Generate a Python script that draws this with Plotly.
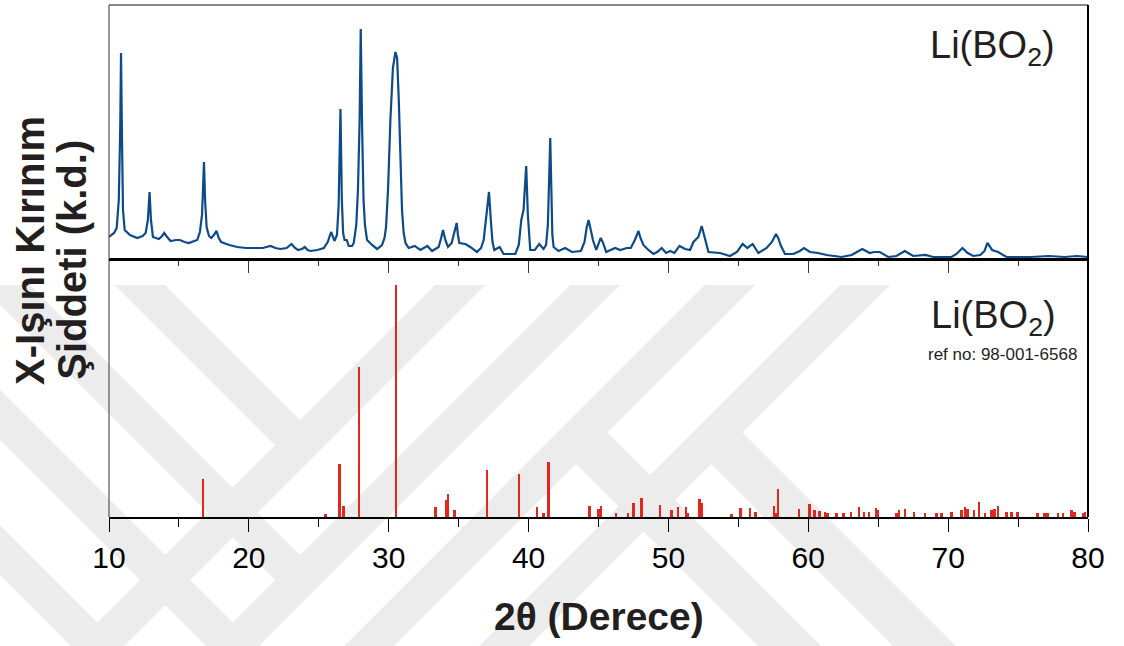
import plotly.graph_objects as go

# ---- measured XRD pattern (top panel), 2theta in degrees, intensity in arbitrary units ----
xrd_2theta = [10.0, 10.36, 10.55, 10.7, 10.8, 10.86, 10.93, 11.0, 11.12, 11.5, 12.02, 12.4, 12.62, 12.78, 12.9, 13.0,
              13.14, 13.57, 13.8, 13.95, 14.1, 14.4, 14.8, 15.07, 15.4, 15.71, 16.1, 16.31, 16.5, 16.65, 16.72, 16.79,
              16.87, 16.98, 17.15, 17.31, 17.5, 17.69, 17.85, 18.02, 18.6, 19.17, 19.8, 20.36, 21.0, 21.55, 21.9, 22.26,
              22.7, 23.05, 23.3, 23.52, 23.8, 24.0, 24.2, 24.4, 24.9, 25.36, 25.64, 25.88, 26.0, 26.12, 26.3, 26.42,
              26.55, 26.65, 26.74, 26.84, 27.0, 27.14, 27.38, 27.5, 27.68, 27.8, 27.92, 28.0, 28.1, 28.2, 28.3, 28.45,
              28.81, 29.17, 29.52, 29.7, 29.81, 29.95, 30.12, 30.3, 30.48, 30.6, 30.72, 30.83, 30.95, 31.07, 31.2, 31.43,
              31.86, 32.26, 32.76, 33.1, 33.57, 33.75, 33.88, 34.05, 34.24, 34.5, 34.75, 34.86, 34.95, 35.05, 35.48, 35.83,
              36.31, 36.6, 36.79, 37.0, 37.17, 37.3, 37.42, 37.55, 37.93, 38.21, 38.6, 39.05, 39.3, 39.48, 39.64, 39.75,
              39.83, 39.95, 40.05, 40.12, 40.45, 40.76, 41.07, 41.25, 41.38, 41.47, 41.55, 41.63, 41.7, 41.79, 42.14, 42.62,
              43.1, 43.74, 44.0, 44.15, 44.29, 44.45, 44.6, 44.84, 45.16, 45.3, 45.55, 46.19, 46.55, 47.02, 47.31, 47.6,
              47.86, 48.0, 48.21, 48.57, 48.93, 49.2, 49.52, 49.83, 50.12, 50.43, 50.79, 51.19, 51.55, 51.79, 52.14, 52.38,
              52.5, 52.62, 52.86, 53.69, 54.4, 54.9, 55.31, 55.64, 56.02, 56.43, 57.02, 57.4, 57.69, 57.85, 58.02, 58.33,
              58.93, 59.4, 59.69, 60.12, 60.7, 61.31, 62.38, 63.1, 63.86, 64.4, 64.7, 65.12, 65.71, 66.3, 66.9, 67.5,
              68.38, 68.93, 70.24, 70.6, 71.02, 71.4, 71.79, 72.3, 72.6, 72.81, 73.0, 73.14, 73.57, 74.17, 75.95, 77.2,
              78.33, 79.2, 80.0]
xrd_intensity = [23, 27, 32, 60, 130, 207, 120, 50, 30, 25, 22, 24, 27, 40, 68, 40,
                 23, 21, 24, 27, 24, 19, 20, 20, 18, 17, 19, 20, 28, 45, 70, 98,
                 60, 33, 24, 22, 25, 29, 22, 18, 15, 13, 12, 12, 12, 14, 12, 11,
                 12, 16, 12, 10, 11, 13, 10, 9, 10, 12, 18, 28, 23, 19, 25, 55,
                 151, 60, 27, 20, 20, 14, 14, 17, 35, 70, 140, 231, 130, 60, 35, 20,
                 15, 11, 15, 22, 33, 70, 140, 192, 208, 202, 160, 107, 50, 27, 17, 12,
                 14, 10, 14, 9, 13, 22, 30, 20, 13, 17, 30, 37, 25, 17, 16, 13,
                 8, 12, 20, 45, 68, 40, 18, 10, 13, 6, 6, 6, 15, 40, 50, 75,
                 94, 45, 20, 10, 10, 16, 11, 15, 35, 80, 122, 70, 25, 13, 9, 12,
                 8, 9, 18, 32, 40, 30, 20, 10, 22, 18, 8, 12, 10, 12, 12, 20,
                 29, 22, 15, 10, 6, 8, 12, 7, 9, 7, 14, 11, 10, 18, 23, 34,
                 27, 20, 8, 7, 4, 8, 16, 12, 16, 7, 12, 18, 26, 22, 15, 6,
                 6, 9, 12, 8, 7, 5, 3, 5, 11, 7, 8, 8, 3, 4, 9, 4,
                 5, 3, 3, 6, 12, 7, 4, 5, 9, 17, 13, 10, 8, 3, 3, 4,
                 3, 4, 3]

# ---- reference pattern (bottom panel, ref no: 98-001-6568) ----
ref_2theta = [16.71, 25.48, 26.48, 26.76, 27.86, 30.52, 33.33, 34.10, 34.24, 34.71, 37.02, 39.33, 40.60, 41.07,
              41.43, 44.36, 45.00, 45.17, 46.26, 47.12, 47.52, 48.07, 49.38, 50.21, 50.69, 51.24, 51.36, 52.21,
              52.38, 54.52, 55.16, 55.83, 56.21, 57.55, 57.67, 57.83, 59.34, 60.07, 60.43, 60.79, 61.19, 61.36,
              62.02, 62.50, 63.05, 63.64, 64.00, 64.33, 64.83, 64.95, 66.31, 66.48, 66.90, 67.55, 68.33, 69.17,
              69.52, 70.24, 70.95, 71.19, 71.38, 71.86, 72.19, 72.62, 73.10, 73.33, 73.57, 74.17, 74.52, 74.95,
              76.38, 76.90, 77.10, 77.86, 78.20, 78.81, 79.05, 79.64, 79.80]
ref_intensity = [38, 3, 53, 11, 150, 232, 10, 17, 23, 7, 47, 43, 10, 4,
                 55, 11, 8, 11, 4, 4, 14, 19, 12, 7, 10, 10, 4, 18,
                 14, 3, 9, 9, 5, 11, 4, 28, 8, 13, 7, 6, 5, 4,
                 4, 4, 5, 10, 5, 5, 9, 7, 4, 7, 8, 5, 4, 4,
                 4, 5, 7, 10, 8, 7, 15, 4, 7, 8, 11, 5, 5, 5,
                 4, 4, 4, 4, 4, 7, 5, 4, 5]

x_ticks = [10, 20, 30, 40, 50, 60, 70, 80]
x_minor = [15, 25, 35, 45, 55, 65, 75]
x_title = "2θ (Derece)"
y_title_1 = "X-Işını Kırınım"
y_title_2 = "Şiddeti (k.d.)"
label_top = "Li(BO<sub>2</sub>)"
label_bottom = "Li(BO<sub>2</sub>)"
label_ref = "ref no: 98-001-6568"

SPLIT = 0.502
SANS = "Liberation Sans, Arial, Helvetica, sans-serif"

# ---- faint page watermark (chevron lattice), geometry in page pixels ----
PLOT_L, PLOT_W, PLOT_B, PLOT_H = 109, 979, 517, 512
WM_TOP, WM_BOT = 285, 720
WM_COLOR = "#ececec"
WM_W = 50


def to_paper(px, py):
    return (px - PLOT_L) / PLOT_W, (PLOT_B - py) / PLOT_H


def poly_path(points):
    pts = [to_paper(px, py) for px, py in points]
    return "M " + " L ".join(f"{x:.4f},{y:.4f}" for x, y in pts) + " Z"


def wm(points):
    return dict(type="path", xref="paper", yref="paper", path=poly_path(points),
                fillcolor=WM_COLOR, line=dict(width=0), layer="below")


wm_shapes = []
for k in range(4):
    a = 120 + 135 * k      # "\" arm upper edge: py = px + a
    b = 720 + 135 * k      # "/" stripe upper edge: py = b - px
    # "/" stripe (full length)
    wm_shapes.append(wm([(b - WM_TOP, WM_TOP), (b + WM_W - WM_TOP, WM_TOP),
                         (b + WM_W - WM_BOT, WM_BOT), (b - WM_BOT, WM_BOT)]))
    # "\" arm ending on the stripe
    wm_shapes.append(wm([(WM_TOP - a - WM_W, WM_TOP), (WM_TOP - a, WM_TOP),
                         ((b - a) / 2, (b + a) / 2), ((b - a) / 2, (b + a) / 2 + WM_W)]))
# "\" stems hanging below the two right stripes
for c in (-112, -247):
    b_out = 1040 if c == -112 else 1175
    x1 = (b_out - c) / 2
    x2 = (b_out - (c - 63)) / 2
    wm_shapes.append(wm([(x1, b_out - x1), (x2, b_out - x2),
                         (WM_BOT - (c - 63), WM_BOT), (WM_BOT - c, WM_BOT)]))

fig = go.Figure()
fig.add_trace(go.Scatter(x=xrd_2theta, y=xrd_intensity, mode="lines",
                         line=dict(color="#0d4a8a", width=2.2), xaxis="x2", yaxis="y2",
                         showlegend=False, hoverinfo="x+y"))
fig.add_trace(go.Bar(x=ref_2theta, y=ref_intensity, width=0.18,
                     marker=dict(color="#e2271c", line=dict(width=0)),
                     xaxis="x", yaxis="y", showlegend=False))
# empty trace so that the inner top axis of the lower panel (middle line with ticks) is drawn
fig.add_trace(go.Scatter(x=[None], y=[None], xaxis="x3", yaxis="y", showlegend=False,
                         hoverinfo="skip"))

fig.update_layout(
    width=1124, height=646,
    margin=dict(l=109, r=36, t=5, b=129),
    paper_bgcolor="white", plot_bgcolor="rgba(0,0,0,0)",
    bargap=0,
    xaxis=dict(domain=[0, 1], range=[10, 80], anchor="y", showgrid=False, zeroline=False,
               showline=True, linecolor="black", linewidth=2.2,
               ticks="outside", ticklen=13, tickwidth=1.3, tickcolor="black",
               tickvals=x_ticks, ticktext=[str(t) for t in x_ticks],
               tickfont=dict(family=SANS, size=30, color="black"),
               minor=dict(tickvals=x_minor, ticks="outside", ticklen=8,
                          tickwidth=1.3, tickcolor="black")),
    xaxis3=dict(overlaying="x", anchor="y", side="top", range=[10, 80], showgrid=False, zeroline=False,
                showline=True, linecolor="black", linewidth=2.2,
                ticks="inside", ticklen=13, tickwidth=1.3, tickcolor="#333",
                tickvals=x_ticks, showticklabels=False,
                minor=dict(tickvals=x_minor, ticks="inside", ticklen=6,
                           tickwidth=1.3, tickcolor="#333")),
    xaxis2=dict(domain=[0, 1], range=[10, 80], anchor="y2", showgrid=False, zeroline=False,
                showline=False, ticks="", showticklabels=False),
    yaxis=dict(domain=[0, SPLIT], range=[0, 257], showgrid=False, zeroline=False,
               showline=False, ticks="", showticklabels=False),
    yaxis2=dict(domain=[SPLIT, 1], range=[0, 255], showgrid=False, zeroline=False,
                showline=False, ticks="", showticklabels=False),
    shapes=wm_shapes + [
        dict(type="line", xref="paper", yref="paper", x0=0, x1=1, y0=1, y1=1,
             line=dict(color="#8a8a8a", width=2)),
        dict(type="line", xref="paper", yref="paper", x0=0, x1=0, y0=0, y1=1,
             line=dict(color="#555555", width=1.2)),
        dict(type="line", xref="paper", yref="paper", x0=1, x1=1, y0=0, y1=1,
             line=dict(color="black", width=2)),
        dict(type="line", xref="paper", yref="paper", x0=0, x1=1, y0=SPLIT, y1=SPLIT,
             line=dict(color="black", width=2.2)),
    ],
    annotations=[
        dict(text=label_top, xref="paper", yref="paper", x=0.968, y=0.916,
             xanchor="right", yanchor="middle", showarrow=False,
             font=dict(family=SANS, size=38, color="#231f20")),
        dict(text=label_bottom, xref="paper", yref="paper", x=0.969, y=0.389,
             xanchor="right", yanchor="middle", showarrow=False,
             font=dict(family=SANS, size=38, color="#231f20")),
        dict(text=label_ref, xref="paper", yref="paper", x=0.991, y=0.318,
             xanchor="right", yanchor="middle", showarrow=False,
             font=dict(family=SANS, size=17, color="#231f20")),
        dict(text="<b>" + y_title_1 + "</b>", xref="paper", yref="paper", x=-0.080, y=0.521,
             xanchor="center", yanchor="middle", textangle=-90, showarrow=False,
             font=dict(family=SANS, size=40, color="#231f20")),
        dict(text="<b>" + y_title_2 + "</b>", xref="paper", yref="paper", x=-0.038, y=0.502,
             xanchor="center", yanchor="middle", textangle=-90, showarrow=False,
             font=dict(family=SANS, size=40, color="#231f20")),
        dict(text="<b>" + x_title + "</b>", xref="paper", yref="paper", x=0.5, y=-0.195,
             xanchor="center", yanchor="middle", showarrow=False,
             font=dict(family=SANS, size=39, color="#231f20")),
    ],
)

fig.write_html("out.html")
